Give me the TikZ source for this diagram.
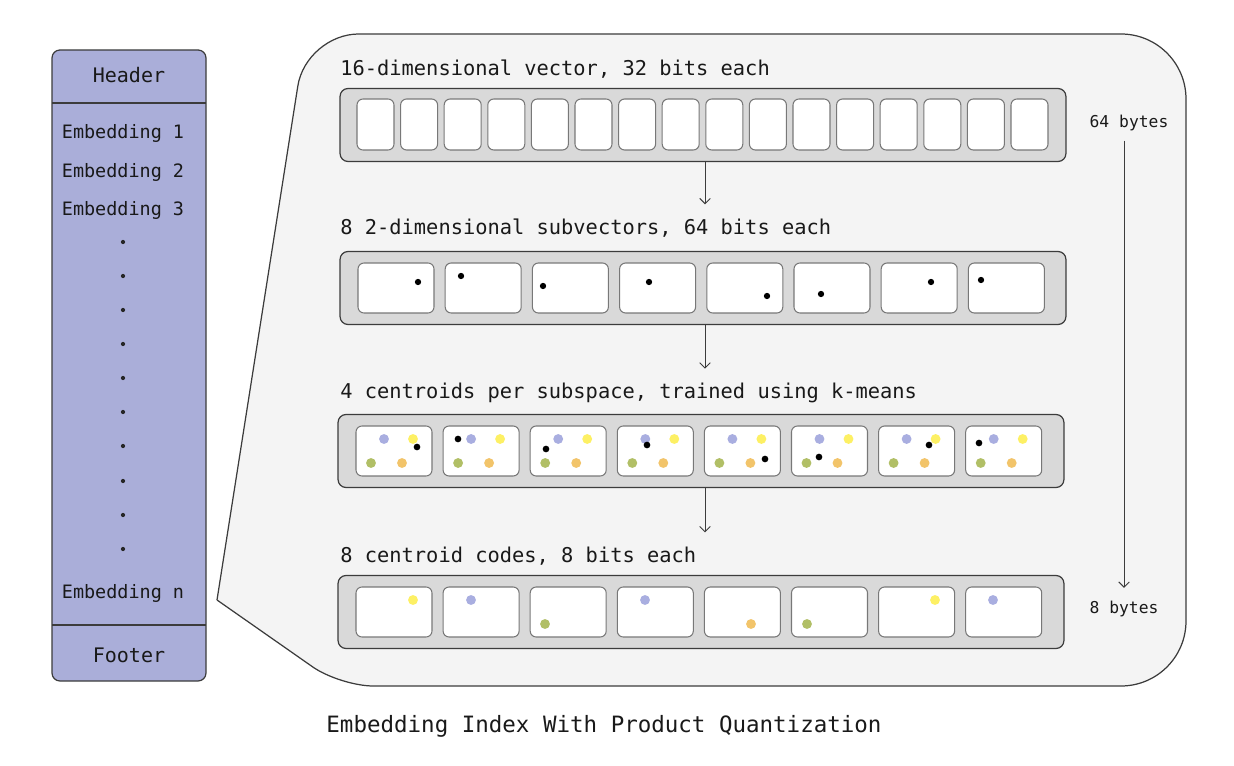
\documentclass[tikz,border=0pt]{standalone}
\usepackage{fontspec}
\setmonofont{DejaVu Sans Mono}
\usetikzlibrary{arrows.meta,positioning,calc}

\definecolor{colpurple}{RGB}{170,174,217}
\definecolor{colpanel}{RGB}{244,244,244}
\definecolor{colstrip}{RGB}{217,217,217}
\definecolor{colline}{RGB}{60,60,60}
\definecolor{colcell}{RGB}{120,120,120}
\definecolor{cblue}{RGB}{169,174,224}
\definecolor{cyellow}{RGB}{253,240,100}
\definecolor{cgreen}{RGB}{177,191,102}
\definecolor{corange}{RGB}{242,196,106}

\tikzset{
    txt/.style={font=\ttfamily\fontsize{10.5pt}{12pt}\selectfont, text=black!90},
    title/.style={font=\ttfamily\fontsize{11.6pt}{13pt}\selectfont, text=black!90, inner sep=0pt, anchor=west},
    strip/.style={draw=colline, fill=colstrip, line width=0.7pt, rounded corners=4.5pt,
        minimum width=14.52cm, minimum height=1.46cm, inner sep=0pt},
    cell/.style={draw=colcell, fill=white, line width=0.6pt, rounded corners=3.4pt},
    flow/.style={draw=colline, line width=0.55pt, -{Straight Barb[length=3pt,width=6pt]}},
}

\begin{document}
\begin{tikzpicture}[x=0.02cm, y=-0.02cm]
    \useasboundingbox (0,0) rectangle (1234,766);

    % file layout on the left
    \draw[fill=colpurple, draw=colline, line width=0.7pt, rounded corners=4.5pt] (52,50) rectangle (206,681);
    \draw[colline, line width=0.7pt] (52,103) -- (206,103);
    \draw[colline, line width=0.7pt] (52,625) -- (206,625);
    \node[txt, font=\ttfamily\fontsize{11.4pt}{13pt}\selectfont] (header) at (129,75) {Header};
    \node[txt] (emb1) at (123,133) {Embedding 1};
    \node[txt] (emb2) at (123,172) {Embedding 2};
    \node[txt] (emb3) at (123,210) {Embedding 3};
    \foreach \y in {242,276,310,344,378,412,446,481,515,549} {\fill[black!85] (123,\y) circle (1.2pt);}
    \node[txt] (embn) at (123,593) {Embedding n};
    \node[txt, font=\ttfamily\fontsize{11.4pt}{13pt}\selectfont] (footer) at (129,655) {Footer};

    % zoomed panel
    \draw[fill=colpanel, draw=colline, line width=0.7pt]
        (217,600) [rounded corners=30pt] -- (306,34) [rounded corners=37pt] -- (1186,34) -- (1186,686)
        [rounded corners=19pt] -- (340,686) -- (217,600);

    % row 1: full vector
    \node[title] (lbl1) at (340,69) {16-dimensional vector, 32 bits each};
    \node[strip] (row1) at (703,125) {};
    \foreach \i in {0,...,15} {\draw[cell] ({357+43.6*\i},99) rectangle +(37,51);}

    % row 2: subvectors
    \node[title] (lbl2) at (340,228) {8 2-dimensional subvectors, 64 bits each};
    \node[strip] (row2) at (703,288) {};
    \foreach \i in {0,...,7} {\draw[cell] ({358+87.2*\i},263) rectangle +(76,50);}
    \foreach \x/\y in {418/282, 461/276, 543/286, 649/282, 767/296, 821/294, 931/282, 981/280}
        {\fill (\x,\y) circle (1.8pt);}

    % row 3: centroids
    \node[title] (lbl3) at (340,393) {4 centroids per subspace, trained using k-means};
    \node[strip] (row3) at (701,451) {};
    \foreach \i in {0,...,7} {
        \pgfmathsetmacro\cx{356+87.1*\i}
        \draw[cell] (\cx,426) rectangle +(76,50);
        \fill[cblue] (\cx+28,439) circle (2.8pt);
        \fill[cyellow] (\cx+57,439) circle (2.8pt);
        \fill[cgreen] (\cx+15,463) circle (2.8pt);
        \fill[corange] (\cx+46,463) circle (2.8pt);
    }
    \foreach \x/\y in {417/447, 458/439, 546/449, 647/445, 765/459, 819/457, 929/445, 979/443}
        {\fill (\x,\y) circle (1.9pt);}

    % row 4: codes
    \node[title] (lbl4) at (340,556) {8 centroid codes, 8 bits each};
    \node[strip] (row4) at (701,612) {};
    \foreach \i in {0,...,7} {\draw[cell] ({356+87.1*\i},587) rectangle +(76,50);}
    \foreach \x/\y/\c in {413/600/cyellow, 471/600/cblue, 545/624/cgreen, 645/600/cblue,
        751/624/corange, 807/624/cgreen, 935/600/cyellow, 993/600/cblue}
        {\fill[\c] (\x,\y) circle (2.8pt);}

    % arrows between rows
    \coordinate (s1) at (705,161);
    \coordinate (s2) at (705,324);
    \coordinate (s3) at (705,488);
    \draw[flow, shorten >=8pt] (row1.south -| s1) -- (s1 |- lbl2.north);
    \draw[flow, shorten >=8pt] (row2.south -| s2) -- (s2 |- lbl3.north);
    \draw[flow, shorten >=8pt] (row3.south -| s3) -- (s3 |- lbl4.north);

    % sizes
    \node[txt, font=\ttfamily\fontsize{9.3pt}{11pt}\selectfont] (b64) at (1129,123) {64 bytes};
    \node[txt, font=\ttfamily\fontsize{9.3pt}{11pt}\selectfont] (b8) at (1124,609) {8 bytes};
    \draw[flow, shorten <=2pt, shorten >=4pt] (b64.south -| b8) -- (b8.north);

    \node[txt, font=\ttfamily\fontsize{12.8pt}{15pt}\selectfont] (caption) at (604,726)
        {Embedding Index With Product Quantization};
\end{tikzpicture}
\end{document}
